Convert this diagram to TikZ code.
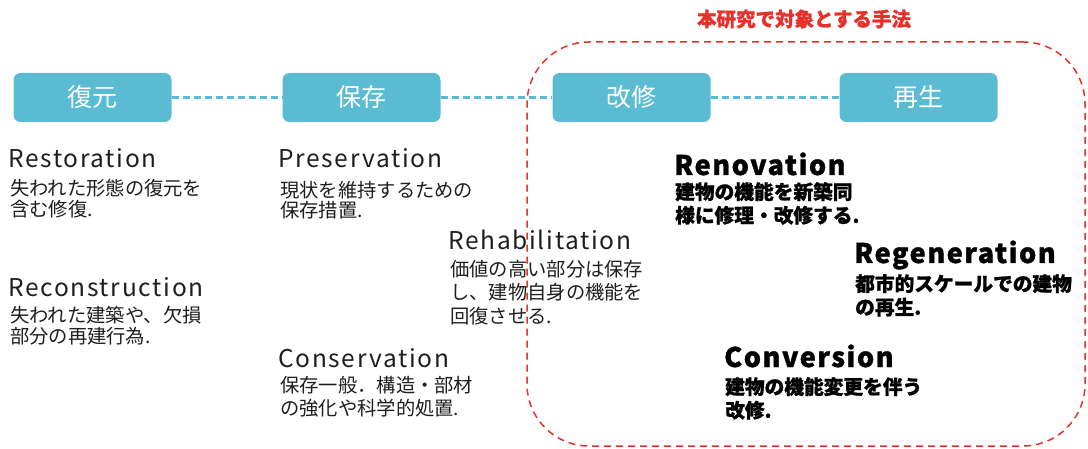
\documentclass[tikz,border=0pt]{standalone}
\usepackage{fontspec}
\setmainfont{Noto Sans CJK JP}
\newfontfamily\jp{Noto Sans CJK JP}
\newfontfamily\latn[LetterSpace=7]{Noto Sans CJK JP}
\newfontfamily\latb[LetterSpace=6,BoldFeatures={FakeBold=1.2}]{Noto Sans CJK JP}
\newfontfamily\jpb[BoldFeatures={FakeBold=1.0}]{Noto Sans CJK JP}
\definecolor{boxblue}{RGB}{91,187,210}
\definecolor{scopered}{RGB}{232,48,42}
\definecolor{txt}{RGB}{30,30,30}
\tikzset{
  stage/.style={fill=boxblue, rounded corners=7pt, minimum width=158pt, minimum height=49pt, inner sep=0pt, text=white, font=\jp\fontsize{25}{27}\selectfont},
  link/.style={draw=boxblue, line width=2.4pt, dash pattern=on 7pt off 4pt},
  term/.style={anchor=base west, inner sep=0pt, text=txt, font=\latn\fontsize{24.5}{26}\selectfont},
  desc/.style={anchor=north west, inner sep=0pt, align=left, text=txt, font=\jp\fontsize{19.3}{20.5}\selectfont},
  bterm/.style={anchor=base west, inner sep=0pt, text=black, font=\latb\bfseries\fontsize{27}{29}\selectfont},
  bdesc/.style={anchor=north west, inner sep=0pt, align=left, text=black, font=\jpb\bfseries\fontsize{19.7}{23.5}\selectfont},
}
\begin{document}
\begin{tikzpicture}[x=1pt,y=-1pt]
\useasboundingbox (0,0) rectangle (1088,449);
% scope frame
\node[draw=scopered, line width=1.5pt, dash pattern=on 7pt off 5pt, rounded corners=62pt, minimum width=558pt, minimum height=404pt, inner sep=0pt] (frame) at (806,244) {};
\node[text=scopered, font=\jpb\bfseries\fontsize{19.5}{22}\selectfont, inner sep=0pt] (frametitle) at (804,19) {本研究で対象とする手法};
% stages
\node[stage] (s1) at (92.5,97.5) {復元};
\node[stage] (s2) at (361.5,97.5) {保存};
\node[stage] (s3) at (631.5,97.5) {改修};
\node[stage] (s4) at (918.5,97.5) {再生};
\draw[link] (s1) -- (s2);
\draw[link] (s2) -- (s3);
\draw[link] (s3) -- (s4);
% left column
\node[term] (restT) at (8,168) {Restoration};
\node[desc] (restD) at (10,179) {失われた形態の復元を\\含む修復.};
\node[term] (reconT) at (8,297) {Reconstruction};
\node[desc] (reconD) at (10,306) {失われた建築や、欠損\\部分の再建行為.};
% middle column
\node[term] (presT) at (278,168) {Preservation};
\node[desc] (presD) at (280,181) {現状を維持するための\\保存措置.};
\node[term] (rehabT) at (448,250) {Rehabilitation};
\node[desc, font=\jp\fontsize{19.3}{23.5}\selectfont] (rehabD) at (450,260) {価値の高い部分は保存\\し、建物自身の機能を\\回復させる.};
\node[term] (consT) at (278,367) {Conservation};
\node[desc, font=\jp\fontsize{19.3}{23.5}\selectfont] (consD) at (280,376) {保存一般．構造・部材\\の強化や科学的処置.};
% bold column
\node[bterm] (renoT) at (674,175) {Renovation};
\node[bdesc] (renoD) at (675,182) {建物の機能を新築同\\様に修理・改修する.};
\node[bterm] (regenT) at (854,263) {Regeneration};
\node[bdesc] (regenD) at (855,274) {都市的スケールでの建物\\の再生.};
\node[bterm] (convT) at (724,367) {Conversion};
\node[bdesc] (convD) at (725,377) {建物の機能変更を伴う\\改修.};
\end{tikzpicture}
\end{document}
